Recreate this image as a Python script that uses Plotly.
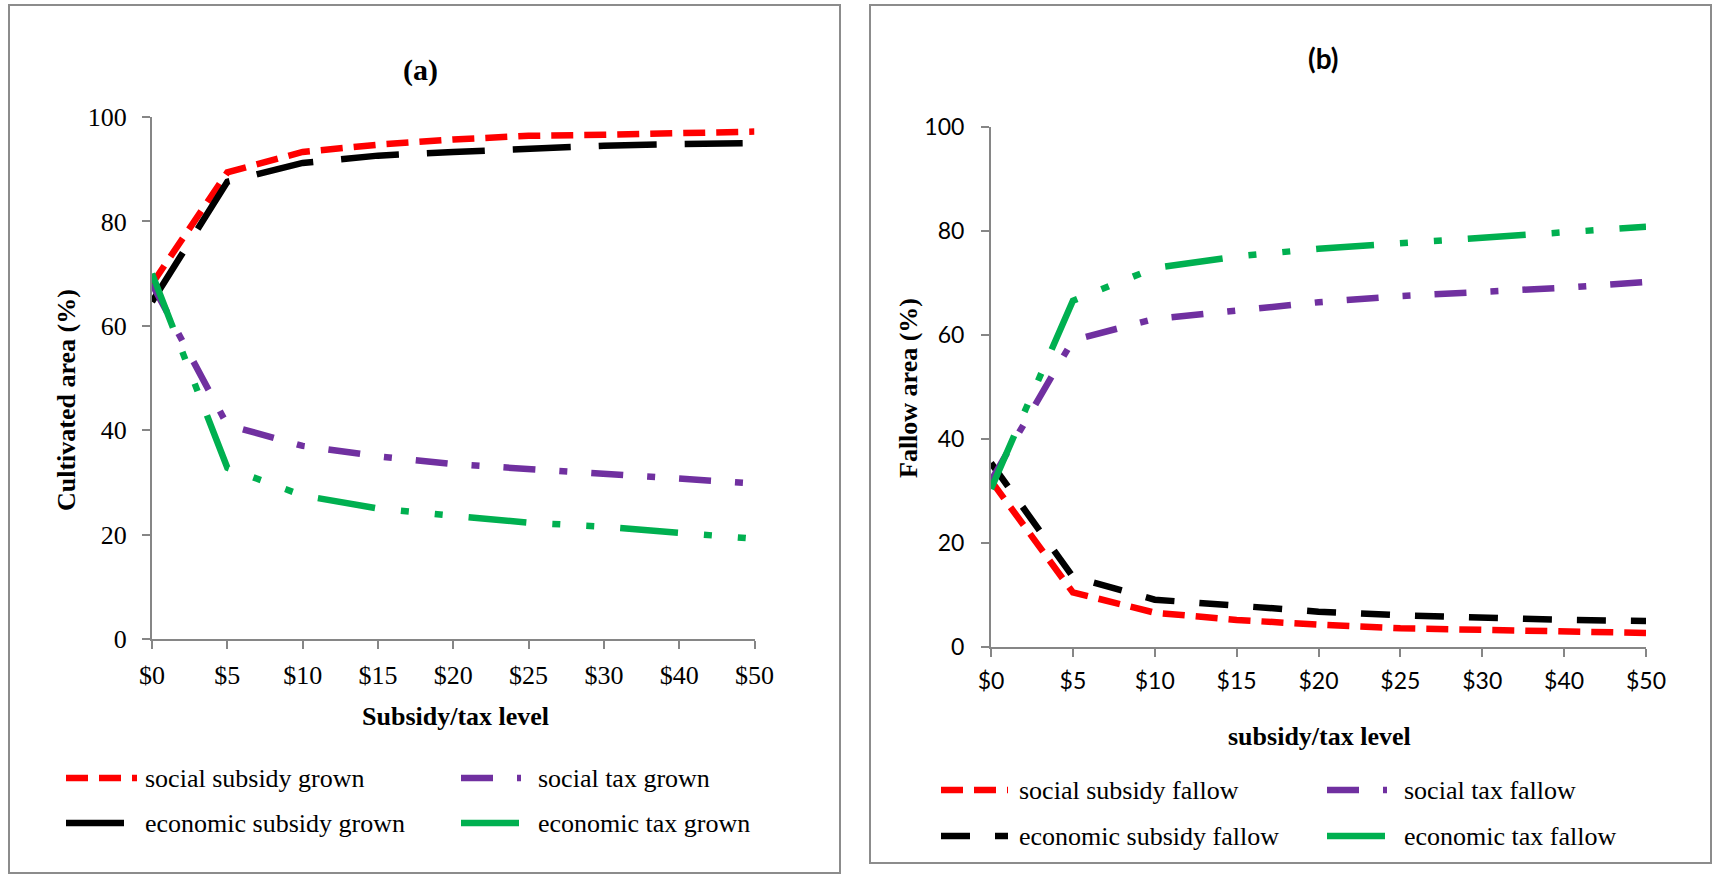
import plotly.graph_objects as go

# Subsidy / tax levels (category axis)
levels = ["$0", "$5", "$10", "$15", "$20", "$25", "$30", "$40", "$50"]

# Panel (a): cultivated area (%)
social_subsidy_grown = [68.0, 89.4, 93.3, 94.7, 95.7, 96.4, 96.6, 96.9, 97.2]
economic_subsidy_grown = [64.6, 87.6, 91.2, 92.6, 93.3, 94.0, 94.5, 94.8, 95.0]
social_tax_grown = [68.0, 41.0, 37.0, 35.0, 33.5, 32.5, 31.6, 30.7, 29.8]
economic_tax_grown = [70.0, 32.8, 27.5, 25.0, 23.6, 22.3, 21.5, 20.4, 19.2]

# Panel (b): fallow area (%)
social_subsidy_fallow = [32.0, 10.5, 6.6, 5.2, 4.3, 3.6, 3.3, 2.9, 2.7]
economic_subsidy_fallow = [35.4, 13.5, 9.1, 7.8, 6.8, 6.1, 5.5, 5.2, 5.0]
social_tax_fallow = [32.0, 59.0, 63.1, 64.8, 66.3, 67.5, 68.2, 69.1, 70.2]
economic_tax_fallow = [30.4, 66.6, 72.9, 75.1, 76.6, 77.6, 78.6, 79.8, 80.8]

W, H = 1716, 874
RED, BLACK, PURPLE, GREEN = "#FF0000", "#000000", "#7030A0", "#00B050"
AXIS_GREY = "#868686"
SERIF = "Liberation Serif"
SANS = "Lato"
LW = 6.5

# dash patterns
DASH_RED = "22px,11px"
DASH_BLACK_A = "58px,28px"
DASH_BLACK_B = "29px,25px"
DASH_PURPLE = "32px,24px,8px,24px"
DASH_GREEN = "58px,26px,8px,26px,8px,26px"


def px_x(x):
    return x / W


def px_y(y):
    return 1 - y / H


fig = go.Figure()

series_a = [
    ("social subsidy grown", social_subsidy_grown, RED, DASH_RED),
    ("economic subsidy grown", economic_subsidy_grown, BLACK, DASH_BLACK_A),
    ("social tax grown", social_tax_grown, PURPLE, DASH_PURPLE),
    ("economic tax grown", economic_tax_grown, GREEN, DASH_GREEN),
]
series_b = [
    ("social subsidy fallow", social_subsidy_fallow, RED, DASH_RED),
    ("economic subsidy fallow", economic_subsidy_fallow, BLACK, DASH_BLACK_B),
    ("social tax fallow", social_tax_fallow, PURPLE, DASH_PURPLE),
    ("economic tax fallow", economic_tax_fallow, GREEN, DASH_GREEN),
]

for name, vals, color, dash in series_a:
    fig.add_trace(go.Scatter(x=levels, y=vals, name=name, mode="lines",
                             line=dict(color=color, width=LW, dash=dash),
                             xaxis="x", yaxis="y", showlegend=False))
for name, vals, color, dash in series_b:
    fig.add_trace(go.Scatter(x=levels, y=vals, name=name, mode="lines",
                             line=dict(color=color, width=LW, dash=dash),
                             xaxis="x2", yaxis="y2", showlegend=False))

common_axis = dict(showline=True, linecolor=AXIS_GREY, linewidth=2,
                   ticks="outside", ticklen=8, tickwidth=2, tickcolor=AXIS_GREY,
                   showgrid=False, zeroline=False, fixedrange=True,
                   automargin=False)

fig.update_layout(
    width=W, height=H, autosize=False,
    margin=dict(l=0, r=0, t=0, b=0, pad=0),
    paper_bgcolor="white", plot_bgcolor="white",
    xaxis=dict(domain=[px_x(152), px_x(754.5)], type="category", range=[0, 8],
               anchor="y", tickfont=dict(family=SERIF, size=26, color="black"),
               ticklabelstandoff=4, **common_axis),
    yaxis=dict(domain=[px_y(639), px_y(117)], range=[0, 100], dtick=20,
               anchor="x", tickfont=dict(family=SERIF, size=26, color="black"),
               ticklabelstandoff=10, **common_axis),
    xaxis2=dict(domain=[px_x(991), px_x(1646)], type="category", range=[0, 8],
                anchor="y2", tickfont=dict(family=SANS, size=23, color="black"),
                ticklabelstandoff=4, **common_axis),
    yaxis2=dict(domain=[px_y(647), px_y(127)], range=[0, 100], dtick=20,
                anchor="x2", tickfont=dict(family=SANS, size=23, color="black"),
                ticklabelstandoff=12, **common_axis),
)

shapes = [
    # panel frames
    dict(type="rect", xref="paper", yref="paper",
         x0=px_x(9), x1=px_x(840), y0=px_y(873), y1=px_y(5),
         line=dict(color="#8c8c8c", width=2)),
    dict(type="rect", xref="paper", yref="paper",
         x0=px_x(870), x1=px_x(1711), y0=px_y(863), y1=px_y(5),
         line=dict(color="#8c8c8c", width=2)),
]
annotations = []


def text(x, y, s, family, size, bold=False, angle=0, anchor="center"):
    annotations.append(dict(
        xref="paper", yref="paper", x=px_x(x), y=px_y(y),
        text=f"<b>{s}</b>" if bold else s, showarrow=False,
        textangle=angle, xanchor=anchor, yanchor="middle",
        font=dict(family=family, size=size, color="black")))


# panel titles and axis titles
text(420, 70, "(a)", SERIF, 30, bold=True)
text(1323, 58, "(b)", SANS, 28, bold=True)
text(66, 400, "Cultivated area (%)", SERIF, 26, bold=True, angle=-90)
text(455, 716, "Subsidy/tax level", SERIF, 26, bold=True)
text(908, 388, "Fallow area (%)", SERIF, 26, bold=True, angle=-90)
text(1319, 736, "subsidy/tax level", SERIF, 26, bold=True)

# legend keys: (x0, x1, y, text x, series)
legend_a = [
    (66, 137, 778, 143, series_a[0]),
    (66, 127, 823, 143, series_a[1]),
    (461, 521, 778, 536, series_a[2]),
    (461, 521, 823, 536, series_a[3]),
]
legend_b = [
    (941, 1008, 790, 1017, series_b[0]),
    (941, 1008, 836, 1017, series_b[1]),
    (1327, 1387, 790, 1402, series_b[2]),
    (1327, 1387, 836, 1402, series_b[3]),
]
for x0, x1, y, tx, (name, _, color, dash) in legend_a + legend_b:
    shapes.append(dict(type="line", xref="paper", yref="paper",
                       x0=px_x(x0), x1=px_x(x1), y0=px_y(y), y1=px_y(y),
                       line=dict(color=color, width=LW, dash=dash)))
    text(tx, y, name, SERIF, 26, anchor="left")

fig.update_layout(shapes=shapes, annotations=annotations)

# page without body margin so the 1716x874 figure fills the window exactly
fig.write_html(
    "out.html",
    post_script="document.body.style.margin='0';"
                "document.documentElement.style.overflow='hidden';",
)
